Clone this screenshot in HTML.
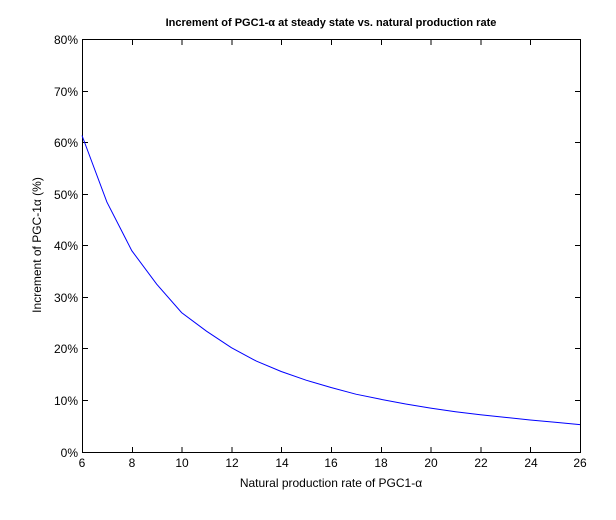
<!DOCTYPE html>
<html><head><meta charset="utf-8"><style>
body{margin:0;background:#fff;}
svg{display:block;font-family:"Liberation Sans",Arial,sans-serif;}
</style></head><body>
<svg width="616" height="520" viewBox="0 0 616 520" xmlns="http://www.w3.org/2000/svg">
<rect width="616" height="520" fill="#fff"/>
<text x="331" y="26" text-anchor="middle" font-size="11" font-weight="bold">Increment of PGC1-α at steady state vs. natural production rate</text>
<g stroke="#000" stroke-width="1" fill="none" shape-rendering="crispEdges">
<rect x="82.5" y="39.5" width="498" height="413"/>
<path d="M132.3 452v-5M182.1 452v-5M231.9 452v-5M281.7 452v-5M331.5 452v-5M381.3 452v-5M431.1 452v-5M480.9 452v-5M530.7 452v-5
M132.3 40v5M182.1 40v5M231.9 40v5M281.7 40v5M331.5 40v5M381.3 40v5M431.1 40v5M480.9 40v5M530.7 40v5
M83 400.5h5M83 348.5h5M83 297.5h5M83 245.5h5M83 194.5h5M83 142.5h5M83 91.5h5
M580 400.5h-5M580 348.5h-5M580 297.5h-5M580 245.5h-5M580 194.5h-5M580 142.5h-5M580 91.5h-5"/>
</g>
<polyline fill="none" stroke="#0000ff" stroke-width="1" points="82,135.5 106.9,202.1 131.8,250.7 156.7,284.2 181.6,312.6 206.5,331.2 231.4,347.7 256.3,361.1 281.2,371.5 306.1,380.2 331,387.5 355.9,394.2 380.8,399.3 405.7,404 430.6,408.1 455.5,411.7 480.4,414.8 505.3,417.4 530.2,420 555.1,422.3 580,424.6"/>
<g font-size="12" text-anchor="middle">
<text x="82" y="467">6</text><text x="132" y="467">8</text><text x="182" y="467">10</text><text x="232" y="467">12</text><text x="282" y="467">14</text><text x="331" y="467">16</text><text x="381" y="467">18</text><text x="431" y="467">20</text><text x="481" y="467">22</text><text x="531" y="467">24</text><text x="580" y="467">26</text>
</g>
<g font-size="12" text-anchor="end">
<text x="78" y="457">0%</text><text x="78" y="405">10%</text><text x="78" y="353">20%</text><text x="78" y="302">30%</text><text x="78" y="250">40%</text><text x="78" y="199">50%</text><text x="78" y="147">60%</text><text x="78" y="96">70%</text><text x="78" y="44">80%</text>
</g>
<text x="331" y="487" text-anchor="middle" font-size="12">Natural production rate of PGC1-α</text>
<text transform="translate(41,245) rotate(-90)" text-anchor="middle" font-size="12">Increment of PGC-1α (%)</text>
</svg>
</body></html>
